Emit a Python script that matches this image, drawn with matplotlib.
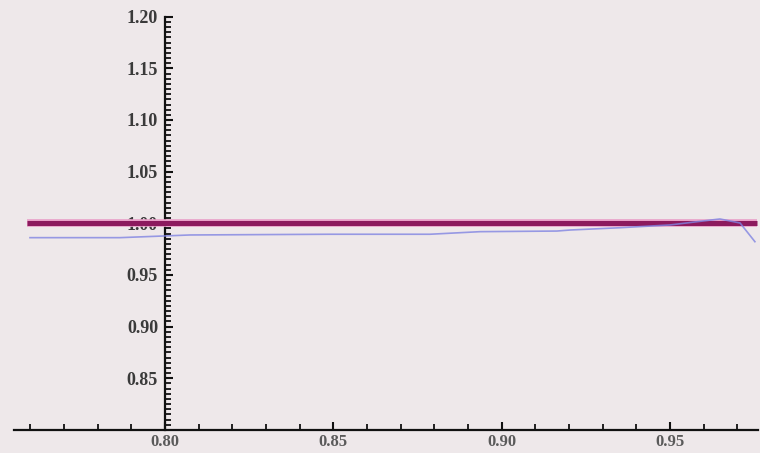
import matplotlib

matplotlib.use("Agg")

import matplotlib.pyplot as plt
from matplotlib.ticker import FixedLocator, MultipleLocator, FormatStrFormatter

# reference line (constant ratio)
ref_x = [0.759, 0.9758]
ref_y = [1.0, 1.0]

# measured curve
curve_x = [0.7599, 0.7866, 0.8074, 0.8490, 0.8787, 0.8936, 0.9164,
           0.9203, 0.9351, 0.9500, 0.9648, 0.9708, 0.9752]
curve_y = [0.9861, 0.9861, 0.9887, 0.9894, 0.9894, 0.9919, 0.9925,
           0.9935, 0.9957, 0.9984, 1.0042, 1.0003, 0.9822]

x_major = [0.80, 0.85, 0.90, 0.95]
y_major = [0.85, 0.90, 0.95, 1.00, 1.05, 1.10, 1.15, 1.20]

BG = "#eee8ea"
RED = "#8c1a5e"
BLUE = "#8084e2"

W, H = 760, 453
fig = plt.figure(figsize=(W / 100, H / 100), dpi=100)
fig.patch.set_facecolor(BG)

left_px, right_px = 13.5, 757.6
top_px, bottom_px = 16.7, 429.9
ax = fig.add_axes([left_px / W, 1 - bottom_px / H,
                   (right_px - left_px) / W, (bottom_px - top_px) / H])
ax.set_facecolor(BG)
ax.set_xlim(0.755, 0.976)
ax.set_ylim(0.80, 1.20)

ax.plot(ref_x, ref_y, color="#e9a0c8", linewidth=5.5, solid_capstyle="butt", zorder=3)
ax.plot(ref_x, ref_y, color=RED, linewidth=3.6, solid_capstyle="butt", zorder=4)
ax.plot(curve_x, curve_y, color=BLUE, linewidth=1.2, alpha=0.8, zorder=5)

for side in ("top", "right"):
    ax.spines[side].set_visible(False)
ax.spines["left"].set_position(("data", 0.80))
ax.spines["bottom"].set_position(("data", 0.80))
for side in ("left", "bottom"):
    ax.spines[side].set_linewidth(1.6)
    ax.spines[side].set_color("#111111")

ax.xaxis.set_major_locator(FixedLocator(x_major))
ax.xaxis.set_minor_locator(MultipleLocator(0.01))
ax.yaxis.set_major_locator(FixedLocator(y_major))
ax.yaxis.set_minor_locator(MultipleLocator(0.005))
ax.xaxis.set_major_formatter(FormatStrFormatter("%.2f"))
ax.yaxis.set_major_formatter(FormatStrFormatter("%.2f"))

ax.tick_params(axis="both", which="major", direction="in", length=6, width=1.5,
               color="#111111")
ax.tick_params(axis="both", which="minor", direction="in", length=4, width=1.3,
               color="#111111")
ax.tick_params(axis="y", which="major", pad=5)
ax.tick_params(axis="x", which="major", pad=3)

for lab in ax.get_yticklabels():
    lab.set_fontfamily("Liberation Serif")
    lab.set_fontweight("bold")
    lab.set_fontsize(13)
    lab.set_color("#3a3a3a")
for lab in ax.get_xticklabels():
    lab.set_fontfamily("Liberation Serif")
    lab.set_fontweight("bold")
    lab.set_fontsize(12)
    lab.set_color("#5a5a5a")

fig.savefig("out.png", dpi=100, facecolor=BG)
